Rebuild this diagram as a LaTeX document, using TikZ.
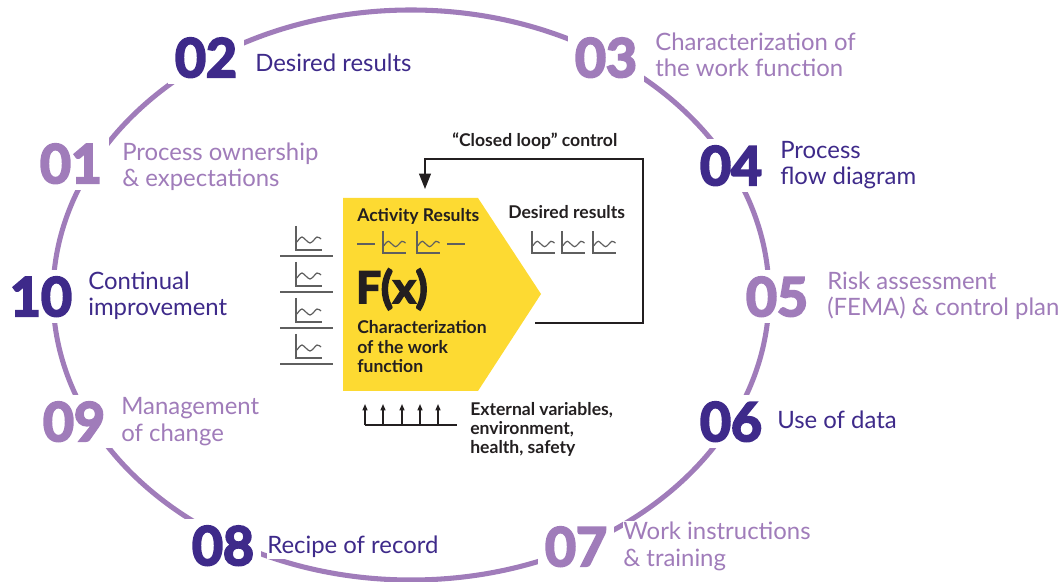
\documentclass[tikz,border=0pt]{standalone}
\usepackage{fontspec}
\setmainfont{Lato}
\newfontfamily\numfont{Lato}[BoldFeatures={FakeBold=4}]
\usepackage{tikz}
\usetikzlibrary{arrows.meta}
\definecolor{ring_purple}{RGB}{160,124,186}
\definecolor{dark_purple}{RGB}{62,42,138}
\definecolor{fx_yellow}{RGB}{253,218,50}
\definecolor{chart_gray}{RGB}{95,95,95}
\definecolor{text_black}{RGB}{35,31,32}

% small trend chart, corner of the axes at #1,#2
\newcommand{\trendchart}[3]{%
  \begin{scope}[shift={(#1,#2)},scale=#3]
    \draw[chartline] (0,-24) -- (0,0) -- (26,0);
    \draw[chartline] plot[smooth] coordinates {(1,-8) (6,-13) (14,-7) (21,-13) (25,-11)};
  \end{scope}}

\begin{document}
\begin{tikzpicture}[x=0.025cm,y=-0.025cm,>={Triangle[width=8.5pt,length=11pt]}]
    \tikzstyle{ring}=[draw=ring_purple, line width=3.6pt]
    \tikzstyle{num}=[fill=white, inner sep=5pt, anchor=base, font=\fontsize{38}{38}\selectfont\numfont\bfseries]
    \tikzstyle{numlight}=[num, text=ring_purple]
    \tikzstyle{numdark}=[num, text=dark_purple]
    \tikzstyle{label}=[fill=white, inner xsep=0pt, inner ysep=1pt, anchor=base west, align=left, font=\fontsize{17}{18.5}\selectfont]
    \tikzstyle{labellight}=[label, text=ring_purple]
    \tikzstyle{labeldark}=[label, text=dark_purple]
    \tikzstyle{inner}=[inner sep=0pt, anchor=base west, align=left, text=text_black, font=\fontsize{12.5}{14.2}\selectfont\bfseries]
    \tikzstyle{chartline}=[draw=chart_gray, line width=0.85pt]
    \tikzstyle{loopline}=[draw=text_black, line width=1pt]

    \useasboundingbox (0,0) rectangle (1063,582);

    \draw[ring] (411,295) ellipse [x radius=358, y radius=285];

    \node[numlight] (n1)  at (71,183)  {01};
    \node[numdark]  (n2)  at (206,77)  {02};
    \node[numlight] (n3)  at (606,77)  {03};
    \node[numdark]  (n4)  at (731,185) {04};
    \node[numlight] (n5)  at (777,316) {05};
    \node[numdark]  (n6)  at (731,441) {06};
    \node[numlight] (n7)  at (576,566) {07};
    \node[numdark]  (n8)  at (223,565) {08};
    \node[numlight] (n9)  at (74,441)  {09};
    \node[numdark]  (n10) at (41,316)  {10};

    % anchors sit on the last baseline
    \node[labellight] (l1)  at (122,187) {Process ownership\\\& expectations};
    \node[labeldark]  (l2)  at (255,72)  {Desired results};
    \node[labellight] (l3)  at (655,77)  {Characterization of\\the work function};
    \node[labeldark]  (l4)  at (780,185) {Process\\flow diagram};
    \node[labellight] (l5)  at (827,316) {Risk assessment\\(FEMA) \& control plan};
    \node[labeldark]  (l6)  at (777,429) {Use of data};
    \node[labellight] (l7)  at (623,566) {Work instructions\\\& training};
    \node[labeldark]  (l8)  at (267,553) {Recipe of record};
    \node[labellight] (l9)  at (121,441) {Management\\of change};
    \node[labeldark]  (l10) at (88,316)  {Continual\\improvement};

    % work function block
    \fill[fx_yellow] (343,198) -- (478,198) -- (541,294) -- (478,391) -- (343,391) -- cycle;
    \node[inner] (activity) at (357,222) {Activity Results};
    \node[inner, font=\fontsize{31}{31}\selectfont\numfont\bfseries] (fx) at (356,303) {F(x)};
    \node[inner] (charact) at (357,373) {Characterization\\of the work\\function};
    \node[inner] (desired) at (508,219) {Desired results};
    \node[inner] (closed) at (452,147) {``Closed loop'' control};
    \node[inner, font=\fontsize{12.5}{13.5}\selectfont\bfseries] (external) at (470,453) {External variables,\\environment,\\health, safety};

    \draw[chartline] (357,244) -- (375,244);
    \draw[chartline] (447,244) -- (465,244);
    \trendchart{383}{253}{0.9}
    \trendchart{417}{253}{0.9}
    \trendchart{532}{253}{0.9}
    \trendchart{562}{253}{0.9}
    \trendchart{593}{253}{0.9}

    \trendchart{296}{250}{1}
    \trendchart{296}{286}{1}
    \trendchart{296}{322}{1}
    \trendchart{296}{358}{1}
    \draw[chartline] (280,256) -- (333,256);
    \draw[chartline] (280,292) -- (333,292);
    \draw[chartline] (280,328) -- (333,328);
    \draw[chartline] (280,364) -- (333,364);

    % closed loop
    \coordinate (loopstart) at (535,323);
    \coordinate (looptip) at (425,189);
    \draw[loopline,->] (loopstart) -| (643,159) -| (looptip);

    % external inputs
    \draw[loopline] (365,425) -- (457,425);
    \foreach \x in {365,383,402,420,438}
      \draw[loopline,-{Triangle[width=3.5pt,length=4.5pt]}] (\x,425) -- (\x,404);
\end{tikzpicture}
\end{document}
